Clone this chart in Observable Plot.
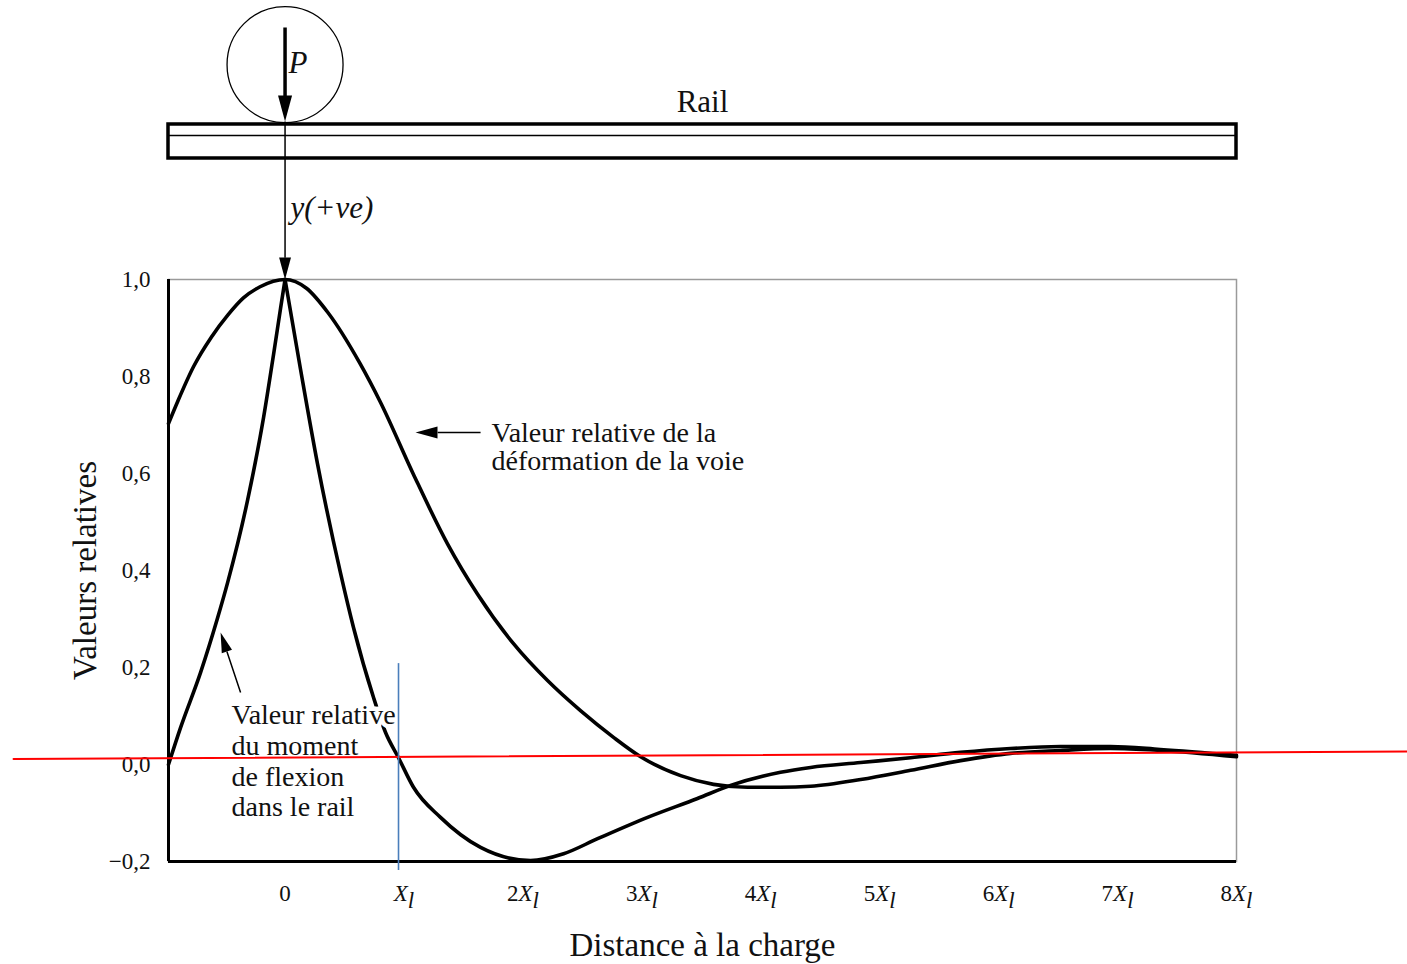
<!DOCTYPE html>
<html>
<head>
<meta charset="utf-8">
<script src="https://cdn.jsdelivr.net/npm/d3@7"></script>
<script src="https://cdn.jsdelivr.net/npm/@observablehq/plot@0.6"></script>
<style>
  html, body { margin: 0; padding: 0; background: #fff; overflow: hidden; }
  #chart svg { display: block; }
</style>
</head>
<body>
<div id="chart"></div>
<script>
// ---- Data (x in units of X_l) ----
const deflectionX = [-0.98, -0.9, -0.77, -0.62, -0.48, -0.35, -0.21, 0, 0.18, 0.36, 0.63, 0.80, 1.08, 1.366, 1.619, 1.921, 2.207, 2.484, 2.762, 2.99, 3.326, 3.603, 3.889, 4.166, 4.419, 4.84, 5.26, 5.68, 6.10, 6.52, 6.94, 7.36, 8.0];
const deflectionY = [0.703, 0.750, 0.820, 0.881, 0.927, 0.962, 0.985, 1.0, 0.982, 0.932, 0.827, 0.748, 0.598, 0.455, 0.351, 0.249, 0.173, 0.111, 0.056, 0.016, -0.023, -0.041, -0.047, -0.047, -0.045, -0.031, -0.012, 0.008, 0.023, 0.029, 0.033, 0.029, 0.016];

const momentLeftX = [-0.98, -0.88, -0.71, -0.57, -0.483, -0.315, -0.181, -0.097, -0.038, 0];
const momentLeftY = [0.0, 0.075, 0.190, 0.300, 0.375, 0.545, 0.715, 0.845, 0.940, 1.0];
const momentRightX = [0, 0.13, 0.273, 0.467, 0.576, 0.744, 0.845, 0.954, 1.08, 1.307, 1.644, 2.064, 2.342, 2.628, 3.048, 3.468, 3.746, 4.166, 4.419, 4.84, 5.26, 5.68, 6.10, 6.52, 6.94, 7.36, 8.0];
const momentRightY = [1.0, 0.815, 0.620, 0.394, 0.282, 0.138, 0.066, 0.014, -0.047, -0.109, -0.171, -0.198, -0.184, -0.153, -0.109, -0.070, -0.043, -0.016, -0.006, 0.004, 0.014, 0.025, 0.033, 0.037, 0.037, 0.031, 0.019];

const xTicks = [0, 1, 2, 3, 4, 5, 6, 7, 8];
const xTickLabels = ["0", "X", "2X", "3X", "4X", "5X", "6X", "7X", "8X"];
const yTicks = [-0.2, 0, 0.2, 0.4, 0.6, 0.8, 1.0];
const yTickLabels = ["\u22120,2", "0,0", "0,2", "0,4", "0,6", "0,8", "1,0"];

const xDomain = [-0.98, 8];
const yDomain = [-0.2, 1.0];

// overlay guide lines seen on the reference
const redLineX = [-2.283, 9.438];
const redLineY = [0.0113, 0.0268];
const blueLineX = [0.954];
const blueLineY = [0.208, -0.2186];

// annotation texts
const deformLines = ["Valeur relative de la", "déformation de la voie"];
const deformLinesX = [1.736, 1.736];
const deformLinesY = [0.6645, 0.6062];
const momentLines = ["Valeur relative", "du moment", "de flexion", "dans le rail"];
const momentLinesX = [-0.45, -0.45, -0.45, -0.45];
const momentLinesY = [0.0845, 0.0206, -0.0433, -0.1052];

// load diagram above the chart (data units)
const wheel = [{x: 0, y: 1.443}];
const rail = [{x1: -0.98, x2: 8, y1: 1.2495, y2: 1.3196}];
const railInner = [1.2969];
const thickShafts = [{x1: 0, y1: 1.5196, x2: 0, y2: 1.367}];
const thinShafts = [
  {x1: 0, y1: 1.3258, x2: 0, y2: 1.045},
  {x1: 1.644, y1: 0.6845, x2: 1.283, y2: 0.6845},
  {x1: -0.374, y1: 0.1485, x2: -0.489, y2: 0.233}
];
const heads = [
  {x: 0, y: 1.3258, angle: 0, len: 26},
  {x: 0, y: 1.0, angle: 0, len: 22},
  {x: 1.097, y: 0.6845, angle: 90, len: 22},
  {x: -0.542, y: 0.2722, angle: 161.6, len: 20}
];
const diagramLabels = [
  {text: "Rail", x: 3.51, y: 1.345, italic: false},
  {text: "P", x: 0.029, y: 1.4268, italic: true},
  {text: "y(+ve)", x: 0.046, y: 1.1278, italic: true}
];

// ---- Build tables ----
const deflection = deflectionX.map((x, i) => ({x, y: deflectionY[i]}));
const moment = [
  ...momentLeftX.map((x, i) => ({x, y: momentLeftY[i], branch: "L"})),
  ...momentRightX.map((x, i) => ({x, y: momentRightY[i], branch: "R"}))
];
const redLine = redLineX.map((x, i) => ({x, y: redLineY[i]}));
const deformText = deformLines.map((t, i) => ({t, x: deformLinesX[i], y: deformLinesY[i]}));
const momentText = momentLines.map((t, i) => ({t, x: momentLinesX[i], y: momentLinesY[i]}));

// narrow filled arrowhead; tip at origin, pointing down
const headSymbol = {
  draw(ctx, size) {
    const L = Math.sqrt(size / Math.PI);
    const w = L * 0.27;
    ctx.moveTo(0, 0);
    ctx.lineTo(-w, -L);
    ctx.lineTo(w, -L);
    ctx.closePath();
  }
};

const serif = "'Liberation Serif', 'Times New Roman', 'DejaVu Serif', serif";

const chart = Plot.plot({
  width: 1407,
  height: 964,
  marginLeft: 168,
  marginRight: 171,
  marginTop: 279,
  marginBottom: 103,
  style: {fontFamily: serif, background: "#fff", color: "#111"},
  x: {domain: xDomain},
  y: {domain: yDomain},
  marks: [
    Plot.frame({stroke: "#9a9a9a", strokeWidth: 1.5}),
    Plot.ruleX([xDomain[0]], {y1: yDomain[0], y2: yDomain[1], stroke: "#000", strokeWidth: 3}),
    Plot.ruleY([yDomain[0]], {x1: xDomain[0], x2: xDomain[1], stroke: "#000", strokeWidth: 3.2}),
    Plot.axisY({ticks: yTicks, tickSize: 0, tickPadding: 18, fontSize: 23, label: null,
      tickFormat: d => yTickLabels[yTicks.findIndex(v => Math.abs(v - d) < 1e-9)]}),
    Plot.axisX({ticks: xTicks, tickSize: 0, tickPadding: 23, fontSize: 23, label: null,
      tickFormat: d => xTickLabels[xTicks.indexOf(d)]}),
    // curves
    Plot.line(deflection, {x: "x", y: "y", curve: "monotone-x", stroke: "#000", strokeWidth: 3.6}),
    Plot.line(moment, {x: "x", y: "y", z: "branch", curve: "monotone-x", stroke: "#000", strokeWidth: 3.6}),
    // annotations
    Plot.text(deformText, {x: "x", y: "y", text: "t", textAnchor: "start", lineAnchor: "bottom",
      fontSize: 28, fill: "#111"}),
    Plot.text(momentText, {x: "x", y: "y", text: "t", textAnchor: "start", lineAnchor: "bottom",
      fontSize: 28, fill: "#111", stroke: "#fff", strokeWidth: 9, paintOrder: "stroke"}),
    Plot.link(thinShafts, {x1: "x1", y1: "y1", x2: "x2", y2: "y2", stroke: "#000", strokeWidth: 1.5}),
    Plot.link(thickShafts, {x1: "x1", y1: "y1", x2: "x2", y2: "y2", stroke: "#000", strokeWidth: 3.5}),
    ...heads.map(h => Plot.dot([h], {x: "x", y: "y", r: h.len, rotate: h.angle, symbol: headSymbol,
      fill: "#000", stroke: "none"})),
    // load diagram
    Plot.dot(wheel, {x: "x", y: "y", r: 58, fill: "none", stroke: "#000", strokeWidth: 1.3}),
    Plot.rect(rail, {x1: "x1", x2: "x2", y1: "y1", y2: "y2", fill: "none", stroke: "#000", strokeWidth: 3.5}),
    Plot.ruleY(railInner, {x1: xDomain[0], x2: xDomain[1], stroke: "#000", strokeWidth: 1.3}),
    Plot.text(diagramLabels.filter(d => !d.italic), {x: "x", y: "y", text: "text", textAnchor: "middle",
      lineAnchor: "bottom", fontSize: 31, fill: "#111"}),
    Plot.text(diagramLabels.filter(d => d.italic), {x: "x", y: "y", text: "text", textAnchor: "start",
      lineAnchor: "bottom", fontSize: 31, fontStyle: "italic", fill: "#111"}),
    // axis titles
    Plot.text(["Valeurs relatives"], {text: d => d, frameAnchor: "left", dx: -83, rotate: -90,
      textAnchor: "middle", lineAnchor: "middle", fontSize: 33, fill: "#111"}),
    Plot.text(["Distance à la charge"], {text: d => d, frameAnchor: "bottom", dy: 84,
      textAnchor: "middle", lineAnchor: "middle", fontSize: 33, fill: "#111"}),
    // overlay guide lines
    Plot.line(redLine, {x: "x", y: "y", stroke: "#ff0000", strokeWidth: 2}),
    Plot.ruleX(blueLineX, {y1: blueLineY[0], y2: blueLineY[1], stroke: "#4a7ebb", strokeWidth: 1.6})
  ]
});

// italic X with subscript l in the x tick labels
const ns = "http://www.w3.org/2000/svg";
chart.querySelectorAll('g[aria-label="x-axis tick label"] text').forEach(t => {
  const s = t.textContent;
  if (!s.includes("X")) return;
  const pre = s.replace("X", "");
  t.textContent = "";
  if (pre) t.appendChild(document.createTextNode(pre));
  const tx = document.createElementNS(ns, "tspan");
  tx.setAttribute("font-style", "italic");
  tx.textContent = "X";
  t.appendChild(tx);
  const tl = document.createElementNS(ns, "tspan");
  tl.setAttribute("font-style", "italic");
  tl.setAttribute("dy", "0.3em");
  tl.textContent = "l";
  t.appendChild(tl);
});

document.getElementById("chart").appendChild(chart);
</script>
</body>
</html>
